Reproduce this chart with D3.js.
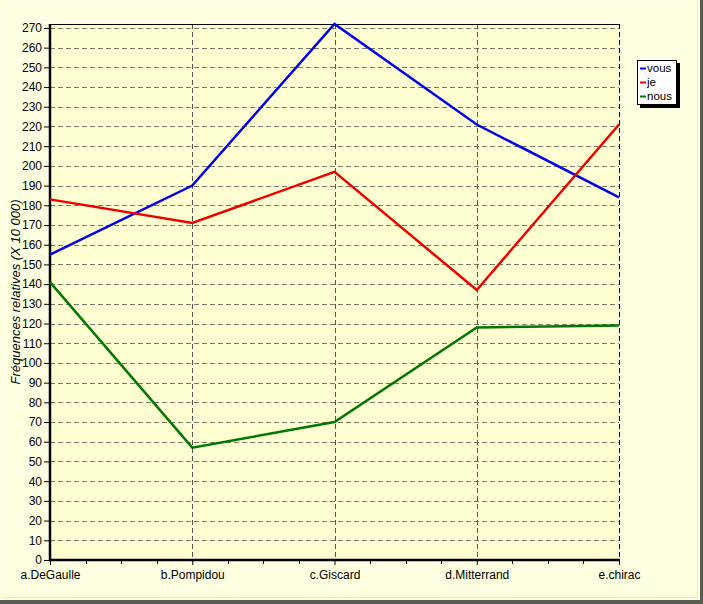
<!DOCTYPE html>
<html><head><meta charset="utf-8">
<script src="https://cdn.jsdelivr.net/npm/d3@7"></script>
<style>body{margin:0;padding:0;background:#fff;}svg{display:block;}</style>
</head><body>
<script>
const categories = ["a.DeGaulle","b.Pompidou","c.Giscard","d.Mitterrand","e.chirac"];
const vous = [155, 190, 272, 221, 184];
const je = [183, 171, 197, 137, 221];
const nous = [141, 57, 70, 118, 119];
const seriesNames = ["vous","je","nous"];
const seriesColors = ["#0000ee","#ee0000","#007800"];
const yTicks = d3.range(0, 271, 10);

(function(){
const W = 703, H = 604;
const svg = d3.select("body").append("svg").attr("width", W).attr("height", H);

// outer background + 3D frame
svg.append("rect").attr("x",0).attr("y",0).attr("width",W).attr("height",H).attr("fill","#ffffe1");
svg.append("line").attr("x1",1.5).attr("y1",1).attr("x2",1.5).attr("y2",600).attr("stroke","#ffffff").attr("stroke-width",1);
svg.append("line").attr("x1",1).attr("y1",1.5).attr("x2",700).attr("y2",1.5).attr("stroke","#ffffff").attr("stroke-width",1);
svg.append("rect").attr("x",0).attr("y",600).attr("width",W).attr("height",4).attr("fill","#5a5a52");
svg.append("rect").attr("x",700).attr("y",0).attr("width",3).attr("height",H).attr("fill","#5a5a52");
svg.append("line").attr("x1",697.5).attr("y1",2).attr("x2",697.5).attr("y2",598).attr("stroke","#e8e8d0");
svg.append("line").attr("x1",2).attr("y1",597.5).attr("x2",698).attr("y2",597.5).attr("stroke","#e8e8d0");

const pL = 50, pR = 619, pT = 24, pB = 560;
const x = d3.scalePoint().domain(categories).range([pL, pR]);
const y = d3.scaleLinear().domain([0, 272]).range([pB, pT]);

// plot background
svg.append("rect").attr("x",pL).attr("y",pT).attr("width",pR-pL).attr("height",pB-pT).attr("fill","#ffffd2");

// horizontal grid
svg.append("g").selectAll("line").data(yTicks.filter(d=>d>0)).join("line")
  .attr("x1",pL).attr("x2",pR).attr("y1",d=>Math.round(y(d))+0.5).attr("y2",d=>Math.round(y(d))+0.5)
  .attr("stroke","#7a7a6a").attr("stroke-dasharray","5,3").attr("stroke-width",1);
// vertical grid
svg.append("g").selectAll("line").data(categories.slice(1)).join("line")
  .attr("x1",d=>Math.round(x(d))+0.5).attr("x2",d=>Math.round(x(d))+0.5).attr("y1",pT).attr("y2",pB)
  .attr("stroke","#555550").attr("stroke-dasharray","5,3").attr("stroke-width",1);

// top border
svg.append("line").attr("x1",pL).attr("x2",pR+1).attr("y1",pT+0.5).attr("y2",pT+0.5).attr("stroke","#000").attr("stroke-width",1);

// y axis
const yAxis = d3.axisLeft(y).tickValues(yTicks).tickSize(6).tickPadding(2).tickFormat(d3.format("d"));
const gy = svg.append("g").attr("transform",`translate(${pL},0)`).call(yAxis);
gy.select(".domain").attr("stroke","#000").attr("stroke-width",2.5).attr("d",`M0,${pT}V${pB+1}`);
gy.selectAll(".tick line").attr("stroke","#000");
gy.selectAll("text").attr("font-family","Liberation Sans, Arial, sans-serif").attr("font-size",12).attr("fill","#000");

// x axis with minor ticks
const minor = [];
for (let i=0;i<categories.length-1;i++){ for(let k=1;k<4;k++){ minor.push(x(categories[i]) + (x(categories[i+1])-x(categories[i]))*k/4); } }
svg.append("g").selectAll("line").data(minor).join("line")
  .attr("x1",d=>Math.round(d)+0.5).attr("x2",d=>Math.round(d)+0.5).attr("y1",pB).attr("y2",pB+4).attr("stroke","#000");
const xAxis = d3.axisBottom(x).tickSize(5).tickPadding(5);
const gx = svg.append("g").attr("transform",`translate(0,${pB})`).call(xAxis);
gx.select(".domain").attr("stroke","#000").attr("stroke-width",2.5).attr("d",`M${pL-1},0H${pR+1}`);
gx.selectAll(".tick line").attr("stroke","#000");
gx.selectAll("text").attr("font-family","Liberation Sans, Arial, sans-serif").attr("font-size",12).attr("fill","#000");

// y label
svg.append("text").attr("transform","translate(20,292) rotate(-90)").attr("text-anchor","middle")
  .attr("font-family","Liberation Sans, Arial, sans-serif").attr("font-size",13).attr("font-style","italic")
  .text("Fréquences relatives (X 10 000)");

// lines
const data = [vous, je, nous];
const line = d3.line().x((d,i)=>x(categories[i])).y(d=>y(d));
data.forEach((s,i)=>{
  svg.append("path").datum(s).attr("d",line).attr("fill","none").attr("stroke",seriesColors[i]).attr("stroke-width",2.5).attr("stroke-linejoin","miter");
});

// right dashed border on top of lines
svg.append("line").attr("x1",pR+0.5).attr("x2",pR+0.5).attr("y1",pT).attr("y2",pB)
  .attr("stroke","#000").attr("stroke-dasharray","5,3");

// legend
const lg = svg.append("g").attr("transform","translate(637,60)");
lg.append("rect").attr("x",3).attr("y",3).attr("width",40).attr("height",45).attr("fill","#000");
lg.append("rect").attr("x",0.5).attr("y",0.5).attr("width",39).attr("height",44).attr("fill","#ffffff").attr("stroke","#000");
seriesNames.forEach((n,i)=>{
  lg.append("line").attr("x1",3).attr("x2",9).attr("y1",8.5+i*14).attr("y2",8.5+i*14).attr("stroke",seriesColors[i]).attr("stroke-width",2);
  lg.append("text").attr("x",10).attr("y",12+i*14).attr("font-family","Liberation Sans, Arial, sans-serif").attr("font-size",11.5).text(n);
});
})();
</script>
</body></html>
